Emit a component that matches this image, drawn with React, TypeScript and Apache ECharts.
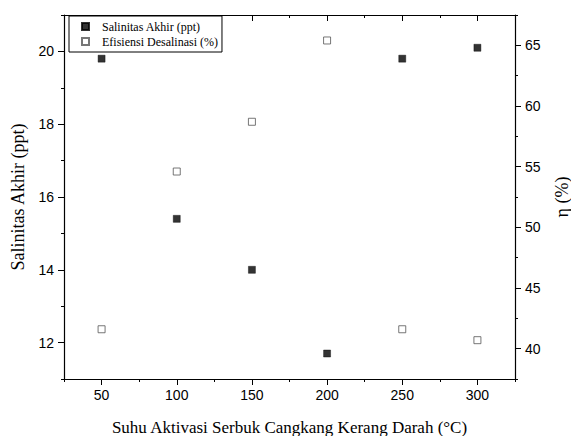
import React, { useEffect, useRef } from "react";
import * as echarts from "echarts";

const temps = [50, 100, 150, 200, 250, 300];
const salinity = [19.8, 15.4, 14.0, 11.7, 19.8, 20.1];
const efficiency = [41.6, 54.6, 58.7, 65.4, 41.6, 40.7];
const xMajor = [50, 100, 150, 200, 250, 300];
const xMinor = [25, 75, 125, 175, 225, 275, 325];
const yLeftMajor = [12, 14, 16, 18, 20];
const yLeftMinor = [11, 13, 15, 17, 19, 21];
const yRightMajor = [40, 45, 50, 55, 60, 65];
const yRightMinor = [37.5, 42.5, 47.5, 52.5, 57.5, 62.5, 67.5];

const SERIES_A = "Salinitas Akhir (ppt)";
const SERIES_B = "Efisiensi Desalinasi (%)";
const X_TITLE = "Suhu Aktivasi Serbuk Cangkang Kerang Darah (°C)";
const Y_LEFT_TITLE = "Salinitas Akhir (ppt)";
const Y_RIGHT_TITLE = "η (%)";

const SANS = "'Liberation Sans', Arial, sans-serif";
const SERIF = "'Liberation Serif', 'Times New Roman', serif";

const line = { show: true, onZero: false, lineStyle: { color: "#000", width: 1.2 } };
const noLine = { show: false, onZero: false };
const noSplit = { show: false };
const noLabel = { show: false };

export default function App() {
  const ref = useRef<HTMLDivElement>(null);
  useEffect(() => {
    if (!ref.current) return;
    const chart = echarts.init(ref.current, null, { renderer: "svg" });
    const gridRect = {
      left: 64,
      right: 56,
      top: 15,
      bottom: 57,
      containLabel: false,
      outerBoundsMode: "none",
    };
    const xRange = { type: "value", min: 25, max: 325 };
    const yLRange = { type: "value", min: 11, max: 21 };
    const yRRange = { type: "value", min: 37.5, max: 67.5 };
    const labelStyle = { fontFamily: SANS, fontSize: 14, color: "#000" };
    const tickStyle = { lineStyle: { color: "#000", width: 1 } };

    chart.setOption({
      animation: false,
      backgroundColor: "#fff",
      grid: [gridRect, gridRect],
      legend: {
        orient: "vertical",
        left: 69,
        top: 16,
        icon: "rect",
        itemWidth: 7,
        itemHeight: 7,
        itemGap: 2,
        padding: [4, 4, 4, 12],
        borderColor: "#000",
        borderWidth: 1,
        backgroundColor: "#fff",
        data: [SERIES_A, SERIES_B],
        textStyle: {
          fontFamily: SERIF,
          fontSize: 12,
          color: "#000",
          lineHeight: 13,
          padding: [0, 0, 0, 8],
        },
      },
      xAxis: [
        {
          ...xRange,
          gridIndex: 0,
          position: "bottom",
          axisLine: line,
          splitLine: noSplit,
          axisTick: { show: true, length: 6, customValues: xMajor, ...tickStyle },
          axisLabel: { ...labelStyle, margin: 9, customValues: xMajor },
          name: X_TITLE,
          nameLocation: "middle",
          nameGap: 40,
          nameTextStyle: { fontFamily: SERIF, fontSize: 17, color: "#000" },
        },
        {
          ...xRange,
          gridIndex: 0,
          position: "top",
          axisLine: line,
          splitLine: noSplit,
          axisTick: { show: true, inside: true, length: 6, customValues: xMajor, ...tickStyle },
          axisLabel: noLabel,
        },
        {
          ...xRange,
          gridIndex: 1,
          position: "bottom",
          axisLine: noLine,
          splitLine: noSplit,
          axisTick: { show: true, length: 3, customValues: xMinor, ...tickStyle },
          axisLabel: noLabel,
        },
        {
          ...xRange,
          gridIndex: 1,
          position: "top",
          axisLine: noLine,
          splitLine: noSplit,
          axisTick: { show: true, inside: true, length: 3, customValues: xMinor, ...tickStyle },
          axisLabel: noLabel,
        },
      ],
      yAxis: [
        {
          ...yLRange,
          gridIndex: 0,
          position: "left",
          axisLine: line,
          splitLine: noSplit,
          axisTick: { show: true, length: 6, customValues: yLeftMajor, ...tickStyle },
          axisLabel: { ...labelStyle, margin: 10, customValues: yLeftMajor },
          name: Y_LEFT_TITLE,
          nameLocation: "middle",
          nameRotate: 90,
          nameGap: 37,
          nameTextStyle: { fontFamily: SERIF, fontSize: 18, color: "#000" },
        },
        {
          ...yRRange,
          gridIndex: 0,
          position: "right",
          axisLine: line,
          splitLine: noSplit,
          axisTick: { show: true, length: 6, customValues: yRightMajor, ...tickStyle },
          axisLabel: { ...labelStyle, margin: 10, customValues: yRightMajor },
          name: Y_RIGHT_TITLE,
          nameLocation: "middle",
          nameRotate: 90,
          nameGap: 38,
          nameTextStyle: { fontFamily: SERIF, fontSize: 18, color: "#000" },
        },
        {
          ...yLRange,
          gridIndex: 1,
          position: "left",
          axisLine: noLine,
          splitLine: noSplit,
          axisTick: { show: true, length: 3, customValues: yLeftMinor, ...tickStyle },
          axisLabel: noLabel,
        },
        {
          ...yRRange,
          gridIndex: 1,
          position: "right",
          axisLine: noLine,
          splitLine: noSplit,
          axisTick: { show: true, length: 3, customValues: yRightMinor, ...tickStyle },
          axisLabel: noLabel,
        },
      ],
      series: [
        {
          name: SERIES_A,
          type: "scatter",
          xAxisIndex: 0,
          yAxisIndex: 0,
          symbol: "rect",
          symbolSize: 7,
          itemStyle: { color: "#000", borderColor: "#000", borderWidth: 0.5 },
          data: temps.map((t, i) => [t, salinity[i]]),
        },
        {
          name: SERIES_B,
          type: "scatter",
          xAxisIndex: 0,
          yAxisIndex: 1,
          symbol: "rect",
          symbolSize: 7,
          itemStyle: { color: "#fff", borderColor: "#555", borderWidth: 1 },
          data: temps.map((t, i) => [t, efficiency[i]]),
        },
      ],
    });
    return () => chart.dispose();
  }, []);
  return <div ref={ref} style={{ width: 571, height: 436, position: "absolute", left: 0, top: 0 }} />;
}
